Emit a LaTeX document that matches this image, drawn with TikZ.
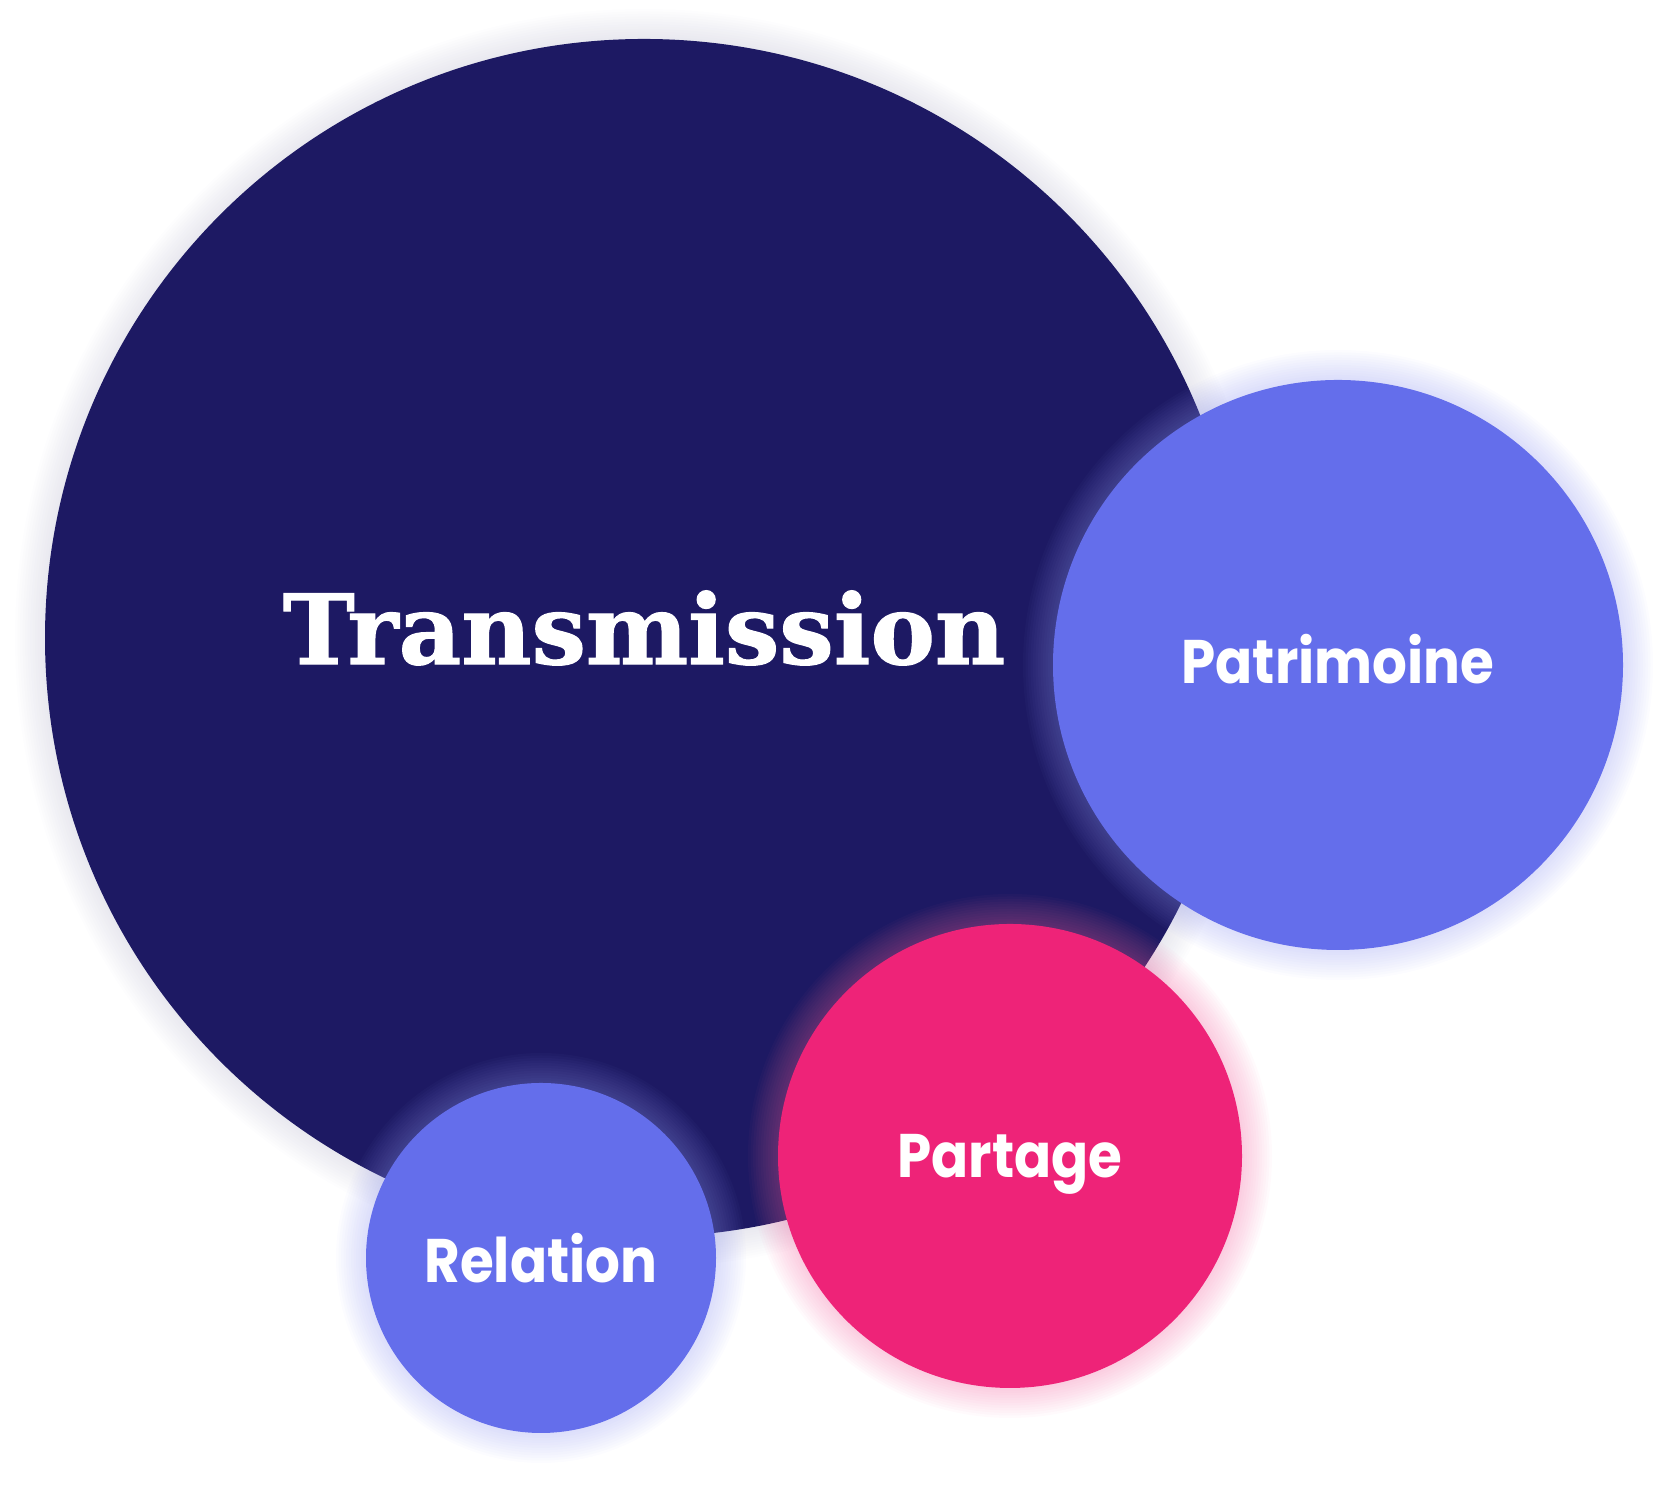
\documentclass[tikz,border=0pt]{standalone}
\usepackage{fontspec}
\usepackage{xcolor}
\usepackage{graphicx}
\usepackage{tikz}
\usetikzlibrary{positioning, shapes, calc}
\newfontfamily\titlefont{DejaVu Serif}[BoldFeatures={FakeBold=1.2}]
\newfontfamily\labelfont{Poppins}
\definecolor{navy}{HTML}{1D1963}
\definecolor{lilac}{HTML}{646EEB}
\definecolor{rose}{HTML}{EE2378}

% soft glow around a circle: centre, radius (cm), colour
\newcommand{\halo}[3]{%
  \foreach \k in {12,11,...,1}
    \fill[#3, opacity=0.03] #1 circle ({#2+0.025*\k});
}
% slightly narrower label text
\newcommand{\narrow}[1]{\scalebox{0.89}[1]{#1}}

\begin{document}
\begin{tikzpicture}[
          bubble/.style={circle, draw=none, text=white, inner sep=0pt, text depth=0pt},
          small/.style={font=\labelfont\bfseries\fontsize{17.5}{20}\selectfont}]
          \useasboundingbox (0,0) rectangle (16.68,14.85);

          \halo{(6.44,8.47)}{5.99}{navy!30}
          \node[bubble, fill=navy, minimum size=11.98cm] (transmission) at (6.44,8.47) {};
          \node[text=white, font=\titlefont\bfseries\fontsize{27.5}{30}\selectfont] (title)
                at ([yshift=0.1cm]transmission.center) {Transmission};

          \halo{(13.38,8.20)}{2.85}{lilac!70}
          \node[bubble, small, fill=lilac, minimum size=5.70cm] (patrimoine) at (13.38,8.20) {};
          \node[small, text=white, text depth=0pt] (patrimoinetext)
                at ([yshift=0.06cm]patrimoine.center) {\narrow{Patrimoine}};

          \halo{(10.10,3.29)}{2.32}{rose!70}
          \node[bubble, small, fill=rose, minimum size=4.64cm] (partage) at (10.10,3.29) {\narrow{Partage}};

          \halo{(5.41,2.27)}{1.75}{lilac!70}
          \node[bubble, small, fill=lilac, minimum size=3.50cm] (relation) at (5.41,2.27) {\narrow{Relation}};
        \end{tikzpicture}
\end{document}
